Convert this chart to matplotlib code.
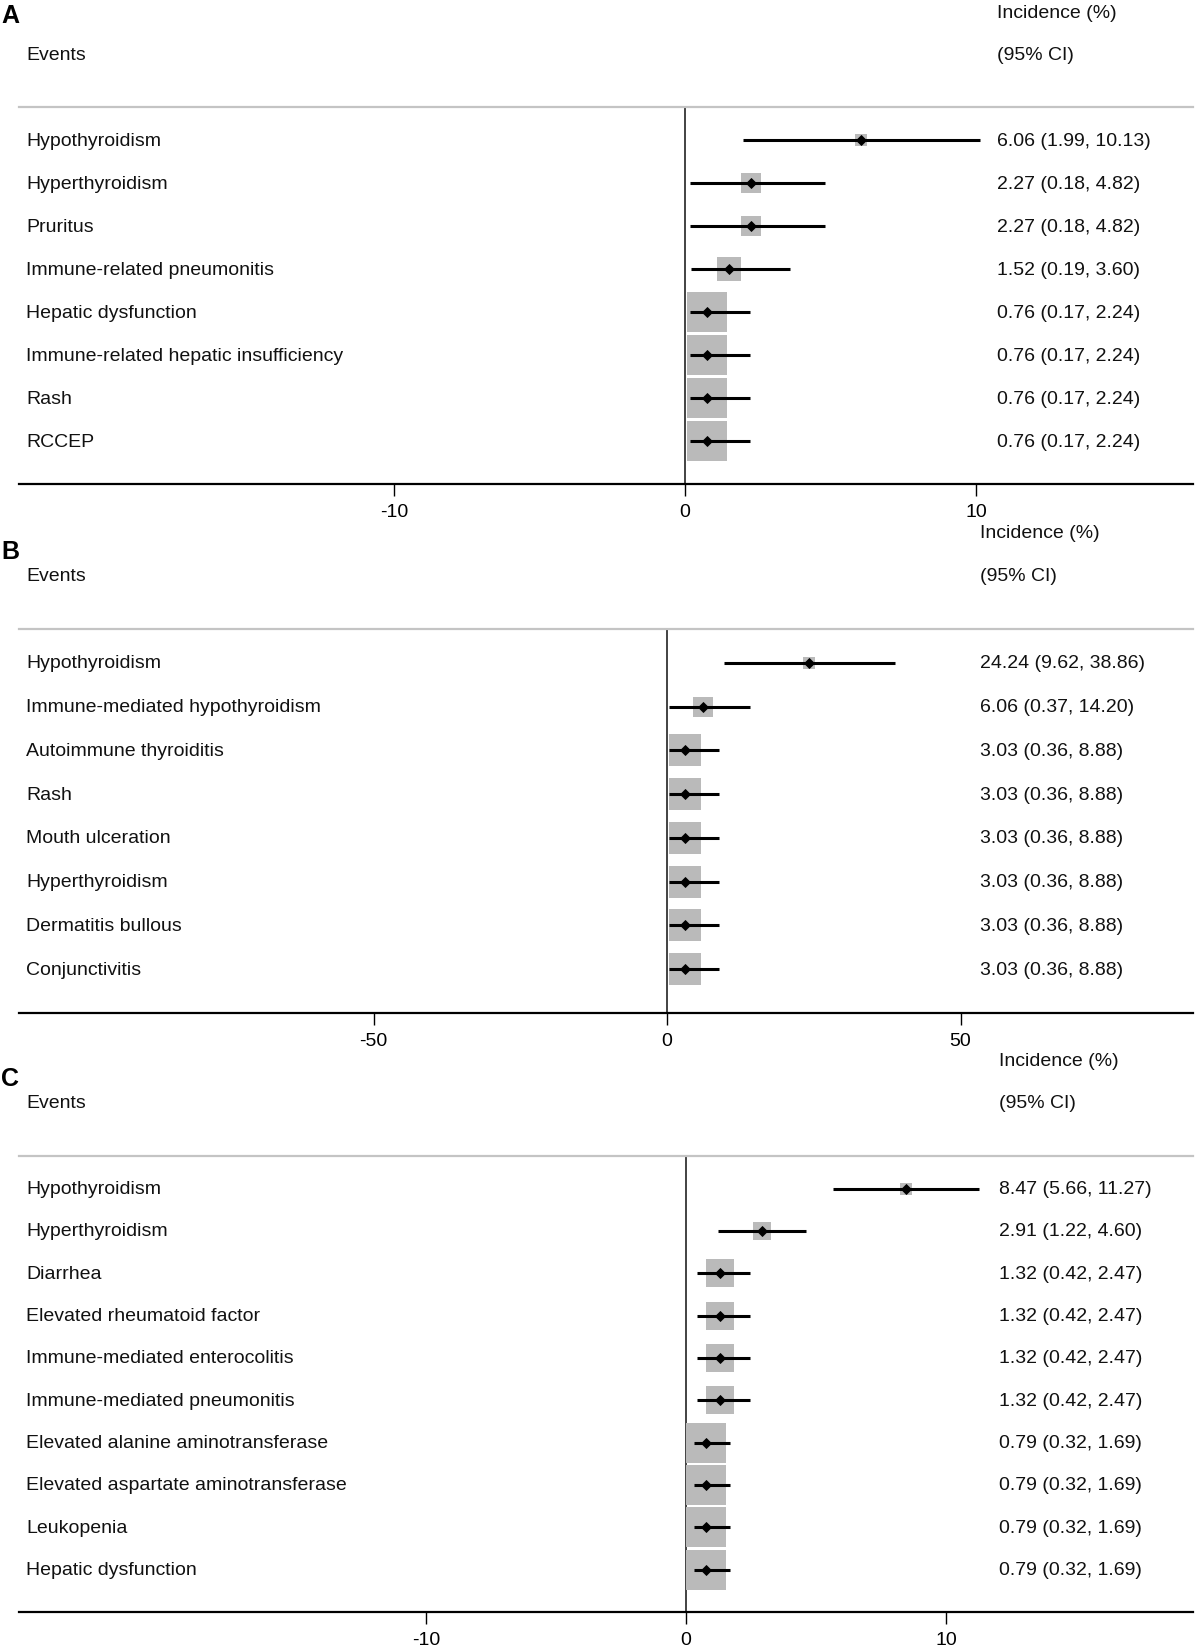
import matplotlib
matplotlib.use("Agg")
import matplotlib.pyplot as plt
import matplotlib.transforms as mtransforms
import numpy as np

plt.rcParams['font.family'] = ['Liberation Sans', 'DejaVu Sans']

# ---------------- data ----------------
events_a = ["Hypothyroidism", "Hyperthyroidism", "Pruritus", "Immune-related pneumonitis",
            "Hepatic dysfunction", "Immune-related hepatic insufficiency", "Rash", "RCCEP"]
est_a = [6.06, 2.27, 2.27, 1.52, 0.76, 0.76, 0.76, 0.76]
lo_a = [1.99, 0.18, 0.18, 0.19, 0.17, 0.17, 0.17, 0.17]
hi_a = [10.13, 4.82, 4.82, 3.60, 2.24, 2.24, 2.24, 2.24]
wt_a = [1.91, 4.80, 4.80, 7.65, 20.21, 20.21, 20.21, 20.21]
ticks_a = [-10, 0, 10]

events_b = ["Hypothyroidism", "Immune-mediated hypothyroidism", "Autoimmune thyroiditis", "Rash",
            "Mouth ulceration", "Hyperthyroidism", "Dermatitis bullous", "Conjunctivitis"]
est_b = [24.24, 6.06, 3.03, 3.03, 3.03, 3.03, 3.03, 3.03]
lo_b = [9.62, 0.37, 0.36, 0.36, 0.36, 0.36, 0.36, 0.36]
hi_b = [38.86, 14.20, 8.88, 8.88, 8.88, 8.88, 8.88, 8.88]
wt_b = [2.27, 6.94, 15.13, 15.13, 15.13, 15.13, 15.13, 15.13]
ticks_b = [-50, 0, 50]

events_c = ["Hypothyroidism", "Hyperthyroidism", "Diarrhea", "Elevated rheumatoid factor",
            "Immune-mediated enterocolitis", "Immune-mediated pneumonitis",
            "Elevated alanine aminotransferase", "Elevated aspartate aminotransferase",
            "Leukopenia", "Hepatic dysfunction"]
est_c = [8.47, 2.91, 1.32, 1.32, 1.32, 1.32, 0.79, 0.79, 0.79, 0.79]
lo_c = [5.66, 1.22, 0.42, 0.42, 0.42, 0.42, 0.32, 0.32, 0.32, 0.32]
hi_c = [11.27, 4.60, 2.47, 2.47, 2.47, 2.47, 1.69, 1.69, 1.69, 1.69]
wt_c = [1.44, 3.24, 7.84, 7.84, 7.84, 7.84, 16.0, 16.0, 16.0, 16.0]
ticks_c = [-10, 0, 10]

# ---------------- layout (pixels) ----------------
W, H = 1197, 1649
DPI = 100
fig = plt.figure(figsize=(W / DPI, H / DPI), dpi=DPI)

FS = 14
GRAY_LINE = '#c4c4c4'
BOX = '#bababa'

panels = [
    dict(letter="A", events=events_a, est=est_a, lo=lo_a, hi=hi_a, wt=wt_a, ticks=ticks_a,
         top=108, bottom=485, xlim=(-22.9, 17.46), valx=997, boxc=8.68, inc_off=94),
    dict(letter="B", events=events_b, est=est_b, lo=lo_b, hi=hi_b, wt=wt_b, ticks=ticks_b,
         top=630, bottom=1014, xlim=(-110.4, 89.6), valx=980, boxc=7.97, inc_off=96),
    dict(letter="C", events=events_c, est=est_c, lo=lo_c, hi=hi_c, wt=wt_c, ticks=ticks_c,
         top=1157, bottom=1613, xlim=(-25.65, 19.5), valx=999, boxc=10.0, inc_off=96),
]

LEFT, RIGHT = 19, 1193
LABX = 26

for p in panels:
    n = len(p['events'])
    ax = fig.add_axes([LEFT / W, 1 - p['bottom'] / H, (RIGHT - LEFT) / W, (p['bottom'] - p['top']) / H])
    ax.set_xlim(*p['xlim'])
    ax.set_ylim(n - 1 + 1.0, -0.77)
    ax.patch.set_alpha(0)
    for s in ['left', 'right']:
        ax.spines[s].set_visible(False)
    ax.spines['top'].set_color(GRAY_LINE)
    ax.spines['top'].set_linewidth(1.6)
    ax.spines['bottom'].set_color('black')
    ax.spines['bottom'].set_linewidth(1.6)
    ax.set_yticks([])
    ax.set_xticks(p['ticks'])
    ax.set_xticklabels([str(t) for t in p['ticks']], fontsize=FS)
    ax.tick_params(axis='x', direction='out', length=8.5, width=1.0, pad=5, color='black')

    ax.axvline(0, color='#222222', lw=1.2, zorder=1)

    y = np.arange(n)
    est = np.array(p['est']); lo = np.array(p['lo']); hi = np.array(p['hi'])
    side_pt = p['boxc'] * np.sqrt(np.array(p['wt'])) * 72 / DPI
    for i in range(n):
        ax.plot([est[i]], [y[i]], marker='s', ms=side_pt[i], mew=0, color=BOX,
                linestyle='none', zorder=2)
    ax.hlines(y, lo, hi, color='black', lw=2.2, zorder=3)
    ax.plot(est, y, marker='D', ms=4.8, mew=0.6, color='black', linestyle='none', zorder=4)

    tr = mtransforms.blended_transform_factory(fig.transFigure, ax.transData)
    for i in range(n):
        ax.text(LABX / W, y[i], p['events'][i], transform=tr, fontsize=FS,
                ha='left', va='center', color='#111111')
        ax.text(p['valx'] / W, y[i], "%.2f (%.2f, %.2f)" % (est[i], lo[i], hi[i]),
                transform=tr, fontsize=FS, ha='left', va='center', color='#111111')

    top = p['top']
    fig.text(p['valx'] / W, 1 - (top - p['inc_off']) / H, "Incidence (%)", fontsize=FS,
             ha='left', va='center', color='#111111')
    fig.text(p['valx'] / W, 1 - (top - 53) / H, "(95% CI)", fontsize=FS,
             ha='left', va='center', color='#111111')
    fig.text(LABX / W, 1 - (top - 53) / H, "Events", fontsize=FS,
             ha='left', va='center', color='#111111')
    lety = 16 if p['letter'] == 'A' else top - 78
    fig.text(1 / W, 1 - lety / H, p['letter'], fontsize=18, fontweight='bold',
             ha='left', va='center', color='black')

fig.savefig("out.png", dpi=DPI)
